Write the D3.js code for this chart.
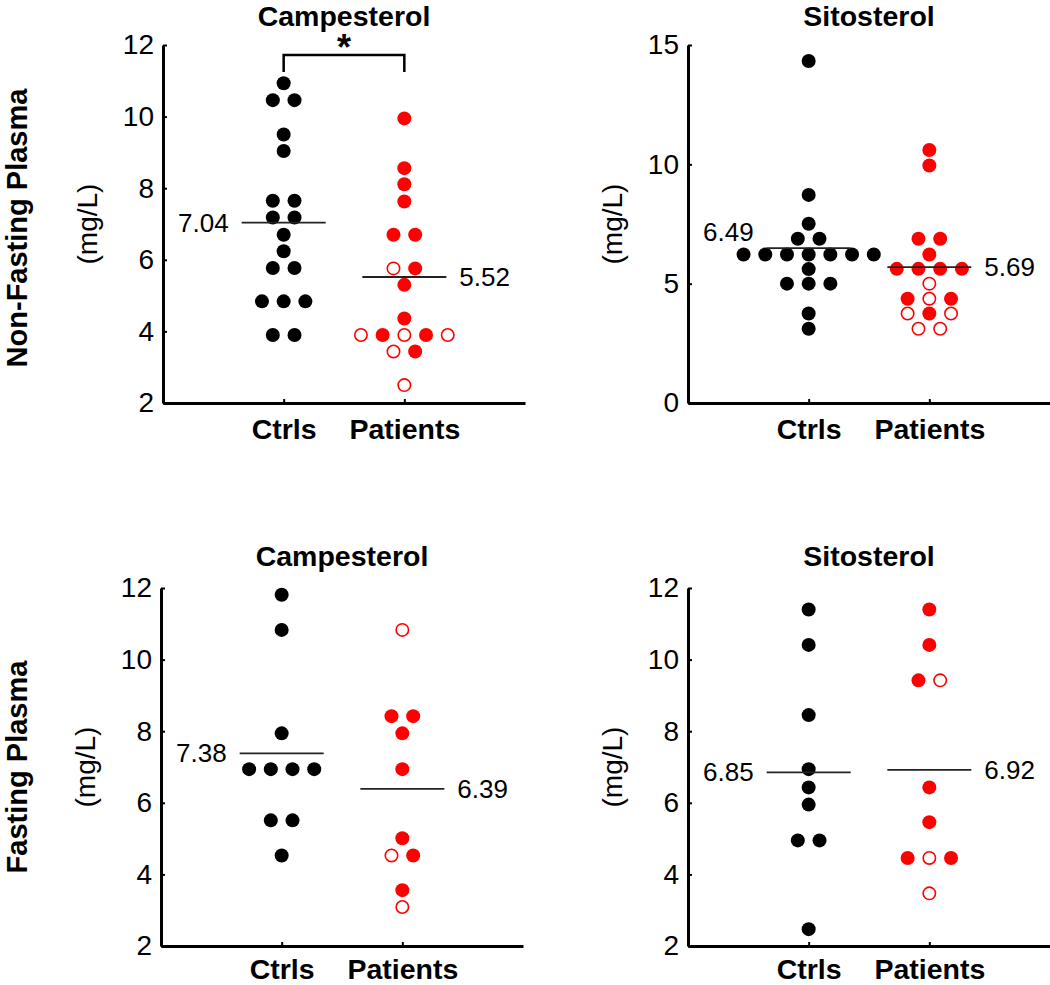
<!DOCTYPE html>
<html><head><meta charset="utf-8">
<script src="https://cdn.jsdelivr.net/npm/d3@7"></script>
<style>
body{margin:0;background:#fff}
text{font-family:"Liberation Sans",Arial,Helvetica,sans-serif}
</style>
</head><body>
<svg id="chart" width="1050" height="985"></svg>
<script>
// ---------- data ----------
const groups = ["Ctrls", "Patients"];
const rowLabels = ["Non-Fasting Plasma", "Fasting Plasma"];
const titles = ["Campesterol", "Sitosterol", "Campesterol", "Sitosterol"];
const yLabel = "(mg/L)";

const ticksCamp = [2, 4, 6, 8, 10, 12];
const ticksSito = [0, 5, 10, 15];

// Non-fasting campesterol
const campNonFastCtrl = [10.93, 10.46, 10.46, 9.50, 9.04, 7.65, 7.65, 7.18, 7.18, 6.70, 6.24, 5.77, 5.77, 4.84, 4.84, 4.84, 3.90, 3.90];
const campNonFastPat = [9.95, 8.56, 8.11, 7.63, 6.70, 6.70, 5.76, 5.76, 5.30, 4.36, 3.90, 3.90, 3.90, 3.90, 3.90, 3.44, 3.44, 2.50];
const campNonFastPatOpen = [0, 0, 0, 0, 0, 0, 1, 0, 0, 0, 1, 0, 1, 0, 1, 1, 0, 1];
const campNonFastMeans = [7.04, 5.52];

// Non-fasting sitosterol
const sitoNonFastCtrl = [14.33, 8.72, 7.51, 6.88, 6.88, 6.22, 6.22, 6.22, 6.22, 6.22, 6.22, 6.22, 5.61, 5.00, 5.00, 5.00, 3.75, 3.11];
const sitoNonFastPat = [10.60, 9.95, 6.88, 6.88, 6.22, 5.62, 5.62, 5.62, 5.62, 5.00, 4.37, 4.37, 4.37, 3.75, 3.75, 3.75, 3.11, 3.11];
const sitoNonFastPatOpen = [0, 0, 0, 0, 0, 0, 0, 0, 0, 1, 0, 1, 0, 1, 0, 1, 1, 1];
const sitoNonFastMeans = [6.49, 5.69];

// Fasting campesterol
const campFastCtrl = [11.81, 10.83, 7.94, 6.94, 6.94, 6.94, 6.94, 5.51, 5.51, 4.53];
const campFastPat = [10.83, 8.42, 8.42, 7.94, 6.94, 5.01, 4.53, 4.53, 3.56, 3.09];
const campFastPatOpen = [1, 0, 0, 0, 0, 0, 1, 0, 0, 1];
const campFastMeans = [7.38, 6.39];

// Fasting sitosterol
const sitoFastCtrl = [11.40, 10.41, 8.45, 6.94, 6.43, 5.95, 4.95, 4.95, 2.47];
const sitoFastPat = [11.40, 10.41, 9.42, 9.42, 6.43, 5.46, 4.46, 4.46, 4.46, 3.47];
const sitoFastPatOpen = [0, 0, 0, 1, 0, 0, 0, 1, 0, 1];
const sitoFastMeans = [6.85, 6.92];

// ---------- layout ----------
const svg = d3.select("#chart");
const W = 362;           // x axis length
const RED = "#ff0000";
const R = 7;              // dot radius
const SPACING = 21.7;     // swarm step
const HALF = 42;          // half width of mean line

const panels = [
  {ax: 163, top: 45, bottom: 403, domain: [2, 12], ticks: ticksCamp, title: titles[0], titleY: 26, labelShift: [0, 0], xPad: 16,
   ctrl: campNonFastCtrl, pat: campNonFastPat, patOpen: campNonFastPatOpen, means: campNonFastMeans, sig: true},
  {ax: 688, top: 45, bottom: 403, domain: [0, 15], ticks: ticksSito, title: titles[1], titleY: 26, labelShift: [-16, 0], xPad: 16,
   ctrl: sitoNonFastCtrl, pat: sitoNonFastPat, patOpen: sitoNonFastPatOpen, means: sitoNonFastMeans},
  {ax: 161, top: 588, bottom: 946, domain: [2, 12], ticks: ticksCamp, title: titles[2], titleY: 566, labelShift: [0, 0], xPad: 13,
   ctrl: campFastCtrl, pat: campFastPat, patOpen: campFastPatOpen, means: campFastMeans},
  {ax: 688, top: 588, bottom: 946, domain: [2, 12], ticks: ticksCamp, title: titles[3], titleY: 566, labelShift: [0, 0], xPad: 13,
   ctrl: sitoFastCtrl, pat: sitoFastPat, patOpen: sitoFastPatOpen, means: sitoFastMeans}
];

function swarm(vals, open) {
  const pts = vals.map((v, i) => ({v, open: open ? !!open[i] : false}));
  const rows = d3.group(pts, d => d.v);
  rows.forEach(row => {
    const n = row.length;
    row.forEach((d, k) => { d.k = k - (n - 1) / 2; });
  });
  return pts;
}

panels.forEach(p => {
  const g = svg.append("g");
  const y = d3.scaleLinear().domain(p.domain).range([p.bottom, p.top]);
  const x = d3.scalePoint().domain(groups).range([p.ax, p.ax + W]).padding(1);

  // y axis
  const ya = g.append("g").attr("transform", `translate(${p.ax},0)`)
    .call(d3.axisLeft(y).tickValues(p.ticks).tickSizeInner(-4).tickSizeOuter(0).tickPadding(9).tickFormat(d3.format("d")));
  ya.select(".domain").attr("stroke", "#000").attr("stroke-width", 3);
  ya.selectAll(".tick line").attr("stroke", "#000").attr("stroke-width", 2);
  ya.selectAll(".tick text").attr("font-size", 28).attr("fill", "#000")
    .style("font-family", '"Liberation Sans",Arial,sans-serif');

  // x axis
  const xa = g.append("g").attr("transform", `translate(0,${p.bottom})`)
    .call(d3.axisBottom(x).tickSizeInner(-4).tickSizeOuter(0).tickPadding(p.xPad));
  xa.select(".domain").attr("stroke", "#000").attr("stroke-width", 3);
  xa.selectAll(".tick line").attr("stroke", "#000").attr("stroke-width", 2);
  xa.selectAll(".tick text").attr("font-size", 28.5).attr("font-weight", "bold").attr("fill", "#000")
    .style("font-family", '"Liberation Sans",Arial,sans-serif');

  // title
  g.append("text").attr("x", (x(groups[0]) + x(groups[1])) / 2).attr("y", p.titleY)
    .attr("text-anchor", "middle").attr("font-size", 28.5).attr("font-weight", "bold").text(p.title);

  // y label
  const yc = (p.top + p.bottom) / 2;
  g.append("text").attr("transform", `translate(${p.ax - 66},${yc}) rotate(-90)`)
    .attr("text-anchor", "middle").attr("font-size", 28).text(yLabel);

  // dots
  const series = [
    {grp: groups[0], pts: swarm(p.ctrl, null), color: "#000"},
    {grp: groups[1], pts: swarm(p.pat, p.patOpen), color: RED}
  ];
  series.forEach(s => {
    g.append("g").selectAll("circle").data(s.pts).join("circle")
      .attr("cx", d => x(s.grp) + d.k * SPACING)
      .attr("cy", d => y(d.v))
      .attr("r", d => d.open ? R - 0.8 : R)
      .attr("fill", d => d.open ? "#fff" : s.color)
      .attr("stroke", d => d.open ? s.color : "none")
      .attr("stroke-width", 1.6);
  });

  // mean lines + labels
  groups.forEach((grp, i) => {
    const m = p.means[i];
    const cx = x(grp);
    g.append("line").attr("x1", cx - HALF).attr("x2", cx + HALF)
      .attr("y1", y(m)).attr("y2", y(m)).attr("stroke", "#222").attr("stroke-width", 1.8);
    g.append("text")
      .attr("x", i === 0 ? cx - HALF - 13 : cx + HALF + 13)
      .attr("y", y(m) + 9 + p.labelShift[i])
      .attr("text-anchor", i === 0 ? "end" : "start")
      .attr("font-size", 26).text(d3.format(".2f")(m));
  });

  // significance bracket
  if (p.sig) {
    const x1 = x(groups[0]), x2 = x(groups[1]);
    g.append("path").attr("d", `M${x1},72V55H${x2}V72`).attr("fill", "none")
      .attr("stroke", "#000").attr("stroke-width", 2.5);
    g.append("text").attr("x", (x1 + x2) / 2).attr("y", 60).attr("text-anchor", "middle")
      .attr("font-size", 36).attr("font-weight", "bold").text("*");
  }
});

// row labels
[[228, rowLabels[0]], [767, rowLabels[1]]].forEach(([yc, t]) => {
  svg.append("text").attr("transform", `translate(26.5,${yc}) rotate(-90)`)
    .attr("text-anchor", "middle").attr("font-size", 29).attr("font-weight", "bold").text(t);
});
</script>
</body></html>
